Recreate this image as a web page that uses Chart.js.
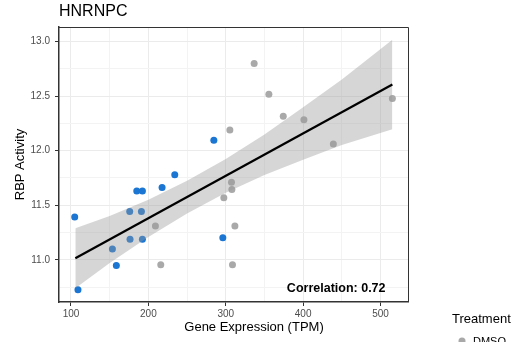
<!DOCTYPE html>
<html>
<head>
<meta charset="utf-8">
<script src="https://cdn.jsdelivr.net/npm/chart.js@4.4.1/dist/chart.umd.min.js"></script>
<style>
  html, body { margin: 0; padding: 0; background: #fff; overflow: hidden; }
  #wrap { width: 519px; height: 342px; }
</style>
</head>
<body>
<div id="wrap"><canvas id="chart" width="519" height="342"></canvas></div>
<script>
// ── Data ─────────────────────────────────────────────────────────
const blueX = [104.8, 109.0, 153.5, 158.6, 175.9, 176.3, 185.0, 192.3, 191.0, 192.3, 217.7, 234.1, 284.6, 296.2];
const blueY = [11.394, 10.728, 11.10, 10.948, 11.443, 11.19, 11.63, 11.63, 11.443, 11.19, 11.662, 11.78, 12.096, 11.204];

const dmsoX = [305.3, 307.4, 307.9, 297.5, 209.1, 311.8, 216.0, 308.7, 336.7, 355.7, 374.3, 401.0, 439.0, 515.3];
const dmsoY = [12.19, 11.71, 11.644, 11.57, 11.31, 11.31, 10.957, 10.957, 12.798, 12.517, 12.316, 12.282, 12.062, 12.477];

// fitted line ends and confidence ribbon
const fitX = [105.6, 515.3];
const fitY = [11.015, 12.605];
const bandX    = [105.6, 150, 200, 250, 300, 350, 400, 450, 515.3];
const bandLow  = [10.74, 10.972, 11.211, 11.425, 11.614, 11.778, 11.918, 12.052, 12.195];
const bandHigh = [11.29, 11.402, 11.551, 11.725, 11.924, 12.148, 12.398, 12.652, 13.015];

// axis ticks: labelled majors plus unlabelled minor grid lines
const xMajor = [100, 200, 300, 400, 500];
const xMinor = [150, 250, 350, 450];
const yMajor = [11.0, 11.5, 12.0, 12.5, 13.0];
const yMinor = [10.75, 11.25, 11.75, 12.25, 12.75];

const titleText = 'HNRNPC';
const xTitle = 'Gene Expression (TPM)';
const yTitle = 'RBP Activity';
const corrText = 'Correlation: 0.72';
const corrPos = [442.7, 10.74];
const legendTitle = 'Treatment';
const legendItems = ['DMSO'];

const FONT = "'Liberation Sans', Arial, Helvetica, sans-serif";
const BLUE = '#1b75d2';
const GREY = '#a9a9a9';

const pts = (xs, ys) => xs.map((x, i) => ({ x, y: ys[i] }));
const isMajor = (list, v) => list.some(m => Math.abs(m - v) < 1e-6);
const tickList = (a, b) => a.concat(b).sort((p, q) => p - q).map(value => ({ value }));

// ── Panel decorations (ggplot-like) ──────────────────────────────
const decor = {
  id: 'decor',
  afterDraw(chart) {
    const { ctx, chartArea: a, scales } = chart;
    ctx.save();
    // thin top / right panel border
    ctx.strokeStyle = '#333333';
    ctx.lineWidth = 1;
    ctx.beginPath();
    ctx.moveTo(a.left, a.top + 0.5);
    ctx.lineTo(a.right + 0.5, a.top + 0.5);
    ctx.lineTo(a.right + 0.5, a.bottom);
    ctx.stroke();

    ctx.fillStyle = '#000';
    ctx.textBaseline = 'middle';
    ctx.textAlign = 'left';
    ctx.font = `16px ${FONT}`;
    ctx.fillText(titleText, 59, 12);

    ctx.font = `13px ${FONT}`;
    ctx.textAlign = 'center';
    ctx.fillText(xTitle, 254, 327);

    ctx.save();
    ctx.translate(20, (a.top + a.bottom) / 2);
    ctx.rotate(-Math.PI / 2);
    ctx.fillText(yTitle, 0, 0);
    ctx.restore();

    ctx.font = `bold 12.5px ${FONT}`;
    ctx.fillText(corrText, scales.x.getPixelForValue(corrPos[0]), scales.y.getPixelForValue(corrPos[1]));

    // legend (cut off at the bottom, as in the reference)
    ctx.textAlign = 'left';
    ctx.font = `13px ${FONT}`;
    ctx.fillText(legendTitle, 452, 319);
    ctx.font = `11px ${FONT}`;
    ctx.textBaseline = 'alphabetic';
    legendItems.forEach((name, i) => {
      const y = 341 + i * 18;
      ctx.fillStyle = GREY;
      ctx.beginPath();
      ctx.arc(462, y, 3.5, 0, Math.PI * 2);
      ctx.fill();
      ctx.fillStyle = '#000';
      ctx.fillText(name, 473, y + 4);
    });
    ctx.restore();
  }
};

new Chart(document.getElementById('chart'), {
  type: 'line',
  data: {
    datasets: [
      {
        data: pts(fitX, fitY),
        borderColor: '#000', borderWidth: 2.2,
        pointRadius: 0, fill: false, order: 0
      },
      {
        data: pts(bandX, bandHigh),
        borderColor: 'transparent', borderWidth: 0,
        backgroundColor: 'rgba(153,153,153,0.4)',
        pointRadius: 0, fill: '+1', order: 1
      },
      {
        data: pts(bandX, bandLow),
        borderColor: 'transparent', borderWidth: 0,
        pointRadius: 0, fill: false, order: 1
      },
      {
        data: pts(dmsoX, dmsoY), showLine: false,
        pointRadius: 3.5, pointBorderWidth: 0,
        pointBackgroundColor: GREY, order: 2
      },
      {
        data: pts(blueX, blueY), showLine: false,
        pointRadius: 3.5, pointBorderWidth: 0,
        pointBackgroundColor: BLUE, order: 2
      }
    ]
  },
  options: {
    responsive: false,
    animation: false,
    layout: { padding: { top: 27, right: 111, left: 0, bottom: 0 } },
    plugins: { legend: { display: false }, tooltip: { enabled: false } },
    scales: {
      x: {
        type: 'linear', min: 84.5, max: 535.5, bounds: 'data',
        afterBuildTicks: s => { s.ticks = tickList(xMajor, xMinor); },
        afterFit: s => { s.height = 40; },
        grid: {
          color: c => isMajor(xMajor, c.tick.value) ? '#ebebeb' : '#f3f3f3',
          lineWidth: 1,
          tickColor: c => isMajor(xMajor, c.tick.value) ? '#333333' : 'rgba(0,0,0,0)',
          tickLength: 4
        },
        border: { color: '#333333', width: 1.5 },
        ticks: {
          autoSkip: false, maxRotation: 0,
          padding: 2, color: '#4d4d4d', font: { family: FONT, size: 10 },
          callback: v => isMajor(xMajor, v) ? String(v) : ''
        }
      },
      y: {
        type: 'linear', min: 10.615, max: 13.132, bounds: 'data',
        afterBuildTicks: s => { s.ticks = tickList(yMajor, yMinor); },
        afterFit: s => { s.width = 59; },
        grid: {
          color: c => isMajor(yMajor, c.tick.value) ? '#ebebeb' : '#f3f3f3',
          lineWidth: 1,
          tickColor: c => isMajor(yMajor, c.tick.value) ? '#333333' : 'rgba(0,0,0,0)',
          tickLength: 4
        },
        border: { color: '#333333', width: 1.5 },
        ticks: {
          autoSkip: false,
          padding: 5, color: '#4d4d4d', font: { family: FONT, size: 10 },
          callback: v => isMajor(yMajor, v) ? v.toFixed(1) : ''
        }
      }
    }
  },
  plugins: [decor]
});
</script>
</body>
</html>
